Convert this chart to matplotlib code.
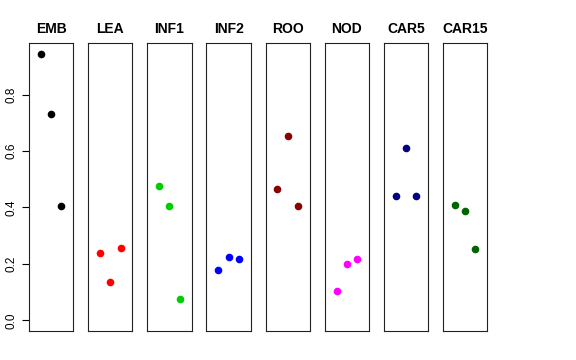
import numpy as np
import matplotlib
matplotlib.use("Agg")
import matplotlib.pyplot as plt

plt.rcParams['font.family'] = ['Liberation Sans', 'DejaVu Sans']

tissues = ['EMB', 'LEA', 'INF1', 'INF2', 'ROO', 'NOD', 'CAR5', 'CAR15']
colors = ['black', 'red', '#00CD00', 'blue', '#8B0000', 'magenta', '#000080', '#006400']
emb = [0.944, 0.731, 0.405]
lea = [0.239, 0.136, 0.257]
inf1 = [0.475, 0.405, 0.075]
inf2 = [0.180, 0.226, 0.218]
roo = [0.466, 0.653, 0.405]
nod = [0.103, 0.198, 0.216]
car5 = [0.439, 0.610, 0.442]
car15 = [0.407, 0.389, 0.252]
values = [emb, lea, inf1, inf2, roo, nod, car5, car15]
reps = [1, 2, 3]
yticks = [0.0, 0.2, 0.4, 0.6, 0.8]

W, H = 576, 360
fig = plt.figure(figsize=(W / 100, H / 100), dpi=100)

# R-like axis limits: xlim c(0,4), ylim c(0, max) with 4% padding
ymax = 0.945
ypad = 0.04 * ymax
for i, (name, col, vals) in enumerate(zip(tissues, colors, values)):
    left = 29 + 59.14 * i
    ax = fig.add_axes([left / W, (360 - 331) / H, 44.3 / W, 288 / H])
    ax.scatter(reps, vals, s=20, color=col, zorder=3)
    ax.set_xlim(-0.16, 4.16)
    ax.set_ylim(-ypad, ymax + ypad)
    ax.set_xticks([])
    for sp in ax.spines.values():
        sp.set_linewidth(0.8)
        sp.set_color('#222222')
    ax.set_title(name, fontsize=10, fontweight='bold', pad=7)
    if i == 0:
        ax.set_yticks(yticks)
        ax.set_yticklabels([f'{v:.1f}' for v in yticks], fontsize=8.5)
        ax.tick_params(axis='y', length=5, width=0.8, pad=3, labelrotation=90)
        for lab in ax.get_yticklabels():
            lab.set_va('center')
    else:
        ax.set_yticks([])

fig.savefig('out.png', dpi=100)
